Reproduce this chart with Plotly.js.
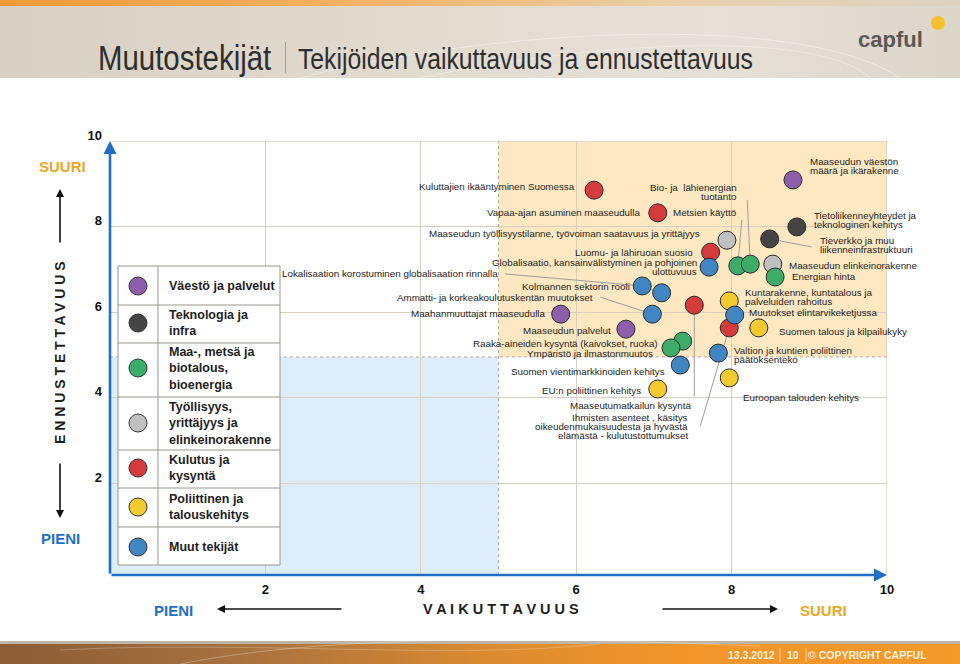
<!DOCTYPE html>
<html>
<head>
<meta charset="utf-8">
<script src="https://cdn.plot.ly/plotly-3.0.1.min.js"></script>
<style>
  html,body{margin:0;padding:0;background:#fff;}
  #wrap{position:relative;width:960px;height:664px;overflow:hidden;background:#fff;}
  #hdr{position:absolute;left:0;top:0;width:960px;height:78px;background:linear-gradient(90deg,#d8d0c3 0%,#e2dbd0 45%,#e6e0d7 75%,#dcd5ca 100%);}
  #stripe{position:absolute;left:0;top:0;width:960px;height:6px;background:linear-gradient(90deg,#f09a38 0%,#f3b060 35%,#e9cfa8 70%,#ddd2c2 100%);}
  #ftrline{position:absolute;left:0;top:641px;width:960px;height:3px;background:#bdb5a8;}
  #ftr{position:absolute;left:0;top:644px;width:960px;height:20px;background:linear-gradient(90deg,#8c5c36 0%,#a7713f 25%,#d98a30 50%,#f1952a 70%,#f39a2b 100%);}
  #deco{position:absolute;left:0;top:0;}
  #chart{position:absolute;left:0;top:0;width:960px;height:664px;}
  .ttl{position:absolute;white-space:nowrap;font-family:'Liberation Sans',Arial,sans-serif;color:#2e2e2e;transform-origin:left center;line-height:1;}
  #t1{left:98px;top:40px;font-size:35px;transform:scaleX(0.84);}
  #sep{position:absolute;left:285px;top:42px;width:1px;height:31px;background:#a09a90;}
  #t2{left:298px;top:44px;font-size:30px;transform:scaleX(0.824);}
</style>
</head>
<body>
<div id="wrap">
  <div id="hdr"></div>
  <div id="stripe"></div>
  <div id="ftrline"></div>
  <div id="ftr"></div>
  <svg id="deco" width="960" height="664">
    <path d="M300 78 C 480 30, 800 10, 900 78" stroke="rgba(255,255,255,0.45)" stroke-width="1" fill="none"/>
    <path d="M420 78 C 600 40, 820 30, 870 78" stroke="rgba(255,255,255,0.35)" stroke-width="1" fill="none"/>
    <path d="M180 664 C 350 630, 600 640, 760 646" stroke="rgba(255,255,255,0.3)" stroke-width="1" fill="none"/>
    <path d="M60 650 C 250 640, 450 660, 600 644" stroke="rgba(255,255,255,0.25)" stroke-width="1" fill="none"/>
  </svg>
  <div class="ttl" id="t1">Muutostekijät</div>
  <div id="sep"></div>
  <div class="ttl" id="t2">Tekijöiden vaikuttavuus ja ennustettavuus</div>
  <div id="chart"></div>
</div>
<script>
// ---------------- DATA ----------------
const groups = [
  'Väestö ja palvelut',
  'Teknologia ja infra',
  'Maa-, metsä ja biotalous, bioenergia',
  'Työllisyys, yrittäjyys ja elinkeinorakenne',
  'Kulutus ja kysyntä',
  'Poliittinen ja talouskehitys',
  'Muut tekijät'
];
const groupLegendText = [
  'Väestö ja palvelut',
  'Teknologia ja<br>infra',
  'Maa-, metsä ja<br>biotalous,<br>bioenergia',
  'Työllisyys,<br>yrittäjyys ja<br>elinkeinorakenne',
  'Kulutus ja<br>kysyntä',
  'Poliittinen ja<br>talouskehitys',
  'Muut tekijät'
];
const groupColors = ['#8d5ea9', '#444444', '#3cad69', '#c0c0c0', '#d63b3b', '#f4cb2e', '#3f86c2'];

const factors = [
  'Kuluttajien ikääntyminen Suomessa',
  'Vapaa-ajan asuminen maaseudulla',
  'Maaseudun työllisyystilanne, työvoiman saatavuus ja yrittäjyys',
  'Luomu- ja lähiruoan suosio',
  'Globalisaatio, kansainvälistyminen ja pohjoinen\nulottuvuus',
  'Metsien käyttö',
  'Bio- ja  lähienergian\ntuotanto',
  'Maaseudun elinkeinorakenne',
  'Energian hinta',
  'Maaseudun väestön\nmäärä ja ikärakenne',
  'Tietoliikenneyhteydet ja\nteknologinen kehitys',
  'Tieverkko ja muu\nliikenneinfrastruktuuri',
  'Lokalisaation korostuminen globalisaation rinnalla',
  'Kolmannen sektorin rooli',
  'Ammatti- ja korkeakoulutuskentän muutokset',
  'Maaseutumatkailun kysyntä',
  'Maahanmuuttajat maaseudulla',
  'Maaseudun palvelut',
  'Raaka-aineiden kysyntä (kaivokset, ruoka)',
  'Ympäristö ja ilmastonmuutos',
  'Suomen vientimarkkinoiden kehitys',
  'EU:n poliittinen kehitys',
  'Kuntarakenne, kuntatalous ja\npalveluiden rahoitus',
  'Ihmisten asenteet , käsitys\noikeudenmukaisuudesta ja hyvästä\nelämästä - kulutustottumukset',
  'Muutokset elintarvikeketjussa',
  'Suomen talous ja kilpailukyky',
  'Valtion ja kuntien poliittinen\npäätöksenteko',
  'Euroopan talouden kehitys'
];
const impact = [6.23, 7.05, 7.94, 7.73, 7.71, 8.08, 8.24, 8.53, 8.56, 8.79, 8.84, 8.49, 6.85, 7.10,
                6.98, 7.52, 5.80, 6.64, 7.37, 7.22, 7.34, 7.05, 7.97, 7.97, 8.04, 8.35, 7.83, 7.97];
const predictability = [8.85, 8.32, 7.68, 7.40, 7.05, 7.08, 7.12, 7.12, 6.82, 9.09, 7.99, 7.71, 6.61, 6.45,
                        5.95, 6.16, 5.95, 5.60, 5.32, 5.16, 4.76, 4.20, 6.26, 5.63, 5.93, 5.63, 5.04, 4.46];
const category = [4, 4, 3, 4, 6, 2, 2, 3, 2, 0, 1, 1, 6, 6, 6, 4, 0, 0, 2, 2, 6, 5, 5, 4, 6, 5, 6, 5];

const xTickVals = [2, 4, 6, 8, 10];
const xTickText = ['2', '4', '6', '8', '10'];
const yTickVals = [2, 4, 6, 8, 10];
const yTickText = ['2', '4', '6', '8', '10'];

// ---------------- LAYOUT HELPERS (label placement, pixels) ----------------
// [dx, dy, anchor, leaderDx, leaderDy]  (dy positive = down)
const labelPlacement = [
  [-17, -4, 'right'], [-16, 0, 'right'], [-25, -7, 'right'], [-16, 0, 'right'], [-10, 0, 'right'],
  [1, -53, 'right', 4, -46], [-11, -72, 'right', -3, -64], [14, 1, 'left'], [15, 0, 'left'],
  [15, -14, 'left'], [15, -7, 'left'], [48, 6, 'left', 42, 8],
  [-142, -12, 'right', -137, -12], [-30, -6, 'right', -28, -8], [-57, -17, 'right', -52, -17],
  [-1, 100, 'right', 0, 91], [-13, -1, 'right'], [-13, 1, 'right'], [-23, 2, 'right'],
  [-16, 6, 'right'], [-13, 6, 'right'], [-15, 1, 'right'], [14, -4, 'left'],
  [-39, 99, 'right', -29, 98], [12, -3, 'left'], [18, 4, 'left'], [14, 2, 'left'], [12, 20, 'left']
];

const L = 110, R = 887, T = 141, B = 575;
const PW = R - L, PH = B - T;
const px = v => (v - L) / PW;
const py = v => (B - v) / PH;
const FONT = 'Liberation Sans, Arial, Helvetica, sans-serif';

const shapes = [];
const annotations = [];
function paperText(x, y, text, font, extra) {
  annotations.push(Object.assign({xref:'paper', yref:'paper', x:px(x), y:py(y), text:text, showarrow:false,
    xanchor:'center', yanchor:'middle', font:font}, extra || {}));
}

// background zones
shapes.push({type:'rect', xref:'x', yref:'y', x0:5, x1:10, y0:4.95, y1:10, fillcolor:'#fde8c2', line:{width:0}, layer:'below'});
shapes.push({type:'rect', xref:'x', yref:'y', x0:0, x1:5, y0:-0.15, y1:4.95, fillcolor:'#ddeefa', line:{width:0}, layer:'below'});
// dotted separators
shapes.push({type:'line', xref:'x', yref:'y', x0:5, x1:5, y0:-0.15, y1:10, line:{color:'#b0aaa0', width:1, dash:'dot'}, layer:'between'});
shapes.push({type:'line', xref:'x', yref:'y', x0:0, x1:10, y0:4.95, y1:4.95, line:{color:'#b0aaa0', width:1, dash:'dot'}, layer:'between'});
// top and right border
shapes.push({type:'line', xref:'x', yref:'y', x0:0, x1:10, y0:10, y1:10, line:{color:'#d3c8b6', width:1.2}, layer:'between'});
shapes.push({type:'line', xref:'x', yref:'y', x0:10, x1:10, y0:-0.15, y1:10, line:{color:'#d3c8b6', width:1.2}, layer:'between'});

// leader lines and labels
const LINE_GAP = 9;
factors.forEach((name, i) => {
  const p = labelPlacement[i];
  const lines = name.split('\n');
  const n = lines.length;
  lines.forEach((ln, k) => {
    const off = (k - (n - 1) / 2) * LINE_GAP;
    annotations.push({
      x: impact[i], y: predictability[i], xref:'x', yref:'y',
      text: ln, showarrow:false, xanchor: p[2], yanchor:'middle',
      xshift: p[0], yshift: -(p[1] + off),
      font:{family: FONT, size: 9.8, color:'#1e1e1e'}
    });
  });
  if (p.length > 3) {
    shapes.push({
      type:'line', xref:'x', yref:'y', xsizemode:'pixel', ysizemode:'pixel',
      xanchor: impact[i], yanchor: predictability[i],
      x0: 0, y0: 0, x1: p[3], y1: -p[4],
      line:{color:'#9c9c9c', width:1}, layer:'between'
    });
  }
});

// axis arrows (blue)
annotations.push({x:0, y:10, xref:'x', yref:'y', ax:0, ay:-0.15, axref:'x', ayref:'y', text:'',
  showarrow:true, arrowhead:2, arrowsize:1, arrowwidth:2.6, arrowcolor:'#1f6fc5'});
annotations.push({x:10, y:-0.15, xref:'x', yref:'y', ax:0, ay:-0.15, axref:'x', ayref:'y', text:'',
  showarrow:true, arrowhead:2, arrowsize:1, arrowwidth:2.6, arrowcolor:'#1f6fc5'});

// legend table
const tblL = 118, tblR = 280, tblC = 158;
const rowEdges = [266, 305, 343, 397, 450, 488, 527, 565];
const rowCenters = [286, 323, 368, 423, 468, 507, 547];
shapes.push({type:'rect', xref:'paper', yref:'paper', x0:px(tblL), x1:px(tblR), y0:py(rowEdges[7]), y1:py(rowEdges[0]),
  fillcolor:'#ffffff', line:{color:'#9a958c', width:1}, layer:'above'});
shapes.push({type:'line', xref:'paper', yref:'paper', x0:px(tblC), x1:px(tblC), y0:py(rowEdges[7]), y1:py(rowEdges[0]),
  line:{color:'#9a958c', width:1}, layer:'above'});
for (let r = 1; r < rowEdges.length - 1; r++) {
  shapes.push({type:'line', xref:'paper', yref:'paper', x0:px(tblL), x1:px(tblR), y0:py(rowEdges[r]), y1:py(rowEdges[r]),
    line:{color:'#9a958c', width:1}, layer:'above'});
}
groups.forEach((g, i) => {
  shapes.push({type:'circle', xref:'paper', yref:'paper', xsizemode:'pixel', ysizemode:'pixel',
    xanchor:px(138), yanchor:py(rowCenters[i]), x0:-9, x1:9, y0:-9, y1:9,
    fillcolor:groupColors[i], line:{color:'#333', width:1}, layer:'above'});
  paperText(167, rowCenters[i], groupLegendText[i], {family:FONT, size:12.5, color:'#1e1e1e', weight:'bold'},
    {xanchor:'left', align:'left'});
});

// left side labels
paperText(62, 167, 'SUURI', {family:FONT, size:15, color:'#e8a823', weight:'bold'});
paperText(60, 538, 'PIENI', {family:FONT, size:15, color:'#1f6fc5', weight:'bold'});
paperText(60, 353, 'E N N U S T E T T A V U U S', {family:FONT, size:14, color:'#1e1e1e', weight:'bold'}, {textangle:-90});
annotations.push({xref:'paper', yref:'paper', x:px(60), y:py(189), ax:0, ay:55, text:'', showarrow:true,
  arrowhead:2, arrowsize:1, arrowwidth:1.6, arrowcolor:'#111'});
annotations.push({xref:'paper', yref:'paper', x:px(60), y:py(518), ax:0, ay:-56, text:'', showarrow:true,
  arrowhead:2, arrowsize:1, arrowwidth:1.6, arrowcolor:'#111'});

// bottom labels
paperText(173, 610, 'PIENI', {family:FONT, size:15, color:'#1f6fc5', weight:'bold'});
paperText(823, 610, 'SUURI', {family:FONT, size:15, color:'#e8a823', weight:'bold'});
paperText(501, 609, 'V A I K U T T A V U U S', {family:FONT, size:14.5, color:'#1e1e1e', weight:'bold'});
annotations.push({xref:'paper', yref:'paper', x:px(217), y:py(609), ax:126, ay:0, text:'', showarrow:true,
  arrowhead:2, arrowsize:1, arrowwidth:1.6, arrowcolor:'#111'});
annotations.push({xref:'paper', yref:'paper', x:px(778), y:py(609), ax:-117, ay:0, text:'', showarrow:true,
  arrowhead:2, arrowsize:1, arrowwidth:1.6, arrowcolor:'#111'});

// logo
paperText(891, 39, 'capful', {family:FONT, size:22, color:'#5b5956', weight:'bold'});
shapes.push({type:'circle', xref:'paper', yref:'paper', xsizemode:'pixel', ysizemode:'pixel',
  xanchor:px(938), yanchor:py(23), x0:-7, x1:7, y0:-7, y1:7, fillcolor:'#f6bf2c', line:{width:0}, layer:'above'});

// footer
const footFont = {family:FONT, size:10.5, color:'#fdf0dc', weight:'bold'};
paperText(751, 655, '13.3.2012', footFont);
paperText(793, 655, '10', footFont);
paperText(867, 655, '© COPYRIGHT CAPFUL', footFont);
[780, 806].forEach(xx => shapes.push({type:'line', xref:'paper', yref:'paper', x0:px(xx), x1:px(xx), y0:py(662), y1:py(648),
  line:{color:'rgba(255,240,220,0.55)', width:1}, layer:'above'}));

// ---------------- TRACE ----------------
const trace = {
  type:'scatter', mode:'markers',
  x: impact, y: predictability,
  text: factors.map(s => s.replace(/\n/g, ' ')),
  hoverinfo:'text',
  marker:{size:18, color: category.map(c => groupColors[c]), line:{color:'#2a2a2a', width:1}},
  cliponaxis:false,
  showlegend:false
};

const layout = {
  width:960, height:664,
  margin:{l:L, r:960 - R, t:T, b:664 - B, pad:0},
  paper_bgcolor:'rgba(0,0,0,0)',
  plot_bgcolor:'#ffffff',
  showlegend:false,
  xaxis:{range:[0, 10], tickvals:xTickVals, ticktext:xTickText, showgrid:true, gridcolor:'#d8cfc0', gridwidth:1,
    zeroline:false, showline:false, ticks:'', ticklabelstandoff:5,
    tickfont:{family:FONT, size:13, color:'#111', weight:'bold'}, fixedrange:true},
  yaxis:{range:[-0.15, 10], tickvals:yTickVals, ticktext:yTickText, showgrid:true, gridcolor:'#d8cfc0', gridwidth:1,
    zeroline:false, showline:false, ticks:'', ticklabelstandoff:7, ticklabelshift:-6,
    tickfont:{family:FONT, size:13, color:'#111', weight:'bold'}, fixedrange:true},
  shapes: shapes,
  annotations: annotations
};

Plotly.newPlot('chart', [trace], layout, {displayModeBar:false, staticPlot:true});
</script>
</body>
</html>
